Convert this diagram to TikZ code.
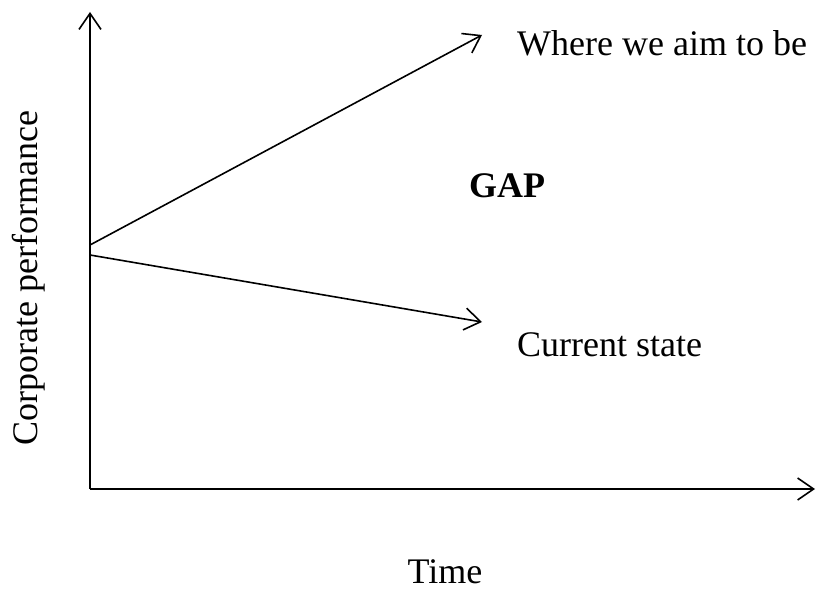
\documentclass[tikz,border=0pt]{standalone}
\usepackage{fontspec}
\setmainfont{Liberation Serif}
\usetikzlibrary{arrows.meta}
\begin{document}
\begin{tikzpicture}[x=1pt,y=-1pt,
  axis/.style={line width=1.6pt,-{Straight Barb[length=16pt,width=22pt,line width=1.6pt]}},
  lbl/.style={inner sep=0pt,font=\fontsize{36}{43}\selectfont}]
\useasboundingbox (0,0) rectangle (819,591);
\coordinate (O) at (90,489);
\coordinate (ytop) at (90,12);
\coordinate (xend) at (815,489);
\coordinate (s1) at (90,245);
\coordinate (s2) at (90,255);
\coordinate (e1) at (482,35);
\coordinate (e2) at (482,322);
\draw[axis] (O) -- (ytop);
\draw[axis] (O) -- (xend);
\draw[axis] (s1) -- (e1);
\draw[axis] (s2) -- (e2);
\node[lbl,anchor=base west] (aim) at (517,56) {Where we aim to be};
\node[lbl,anchor=base west] (cur) at (517,356) {Current state};
\node[lbl,anchor=base,font=\fontsize{36}{43}\selectfont\bfseries] (gap) at (507,197) {GAP};
\node[lbl,anchor=base] (time) at (445,583) {Time};
\node[lbl,anchor=base,rotate=90] (perf) at (37,278) {Corporate performance};
\end{tikzpicture}
\end{document}
